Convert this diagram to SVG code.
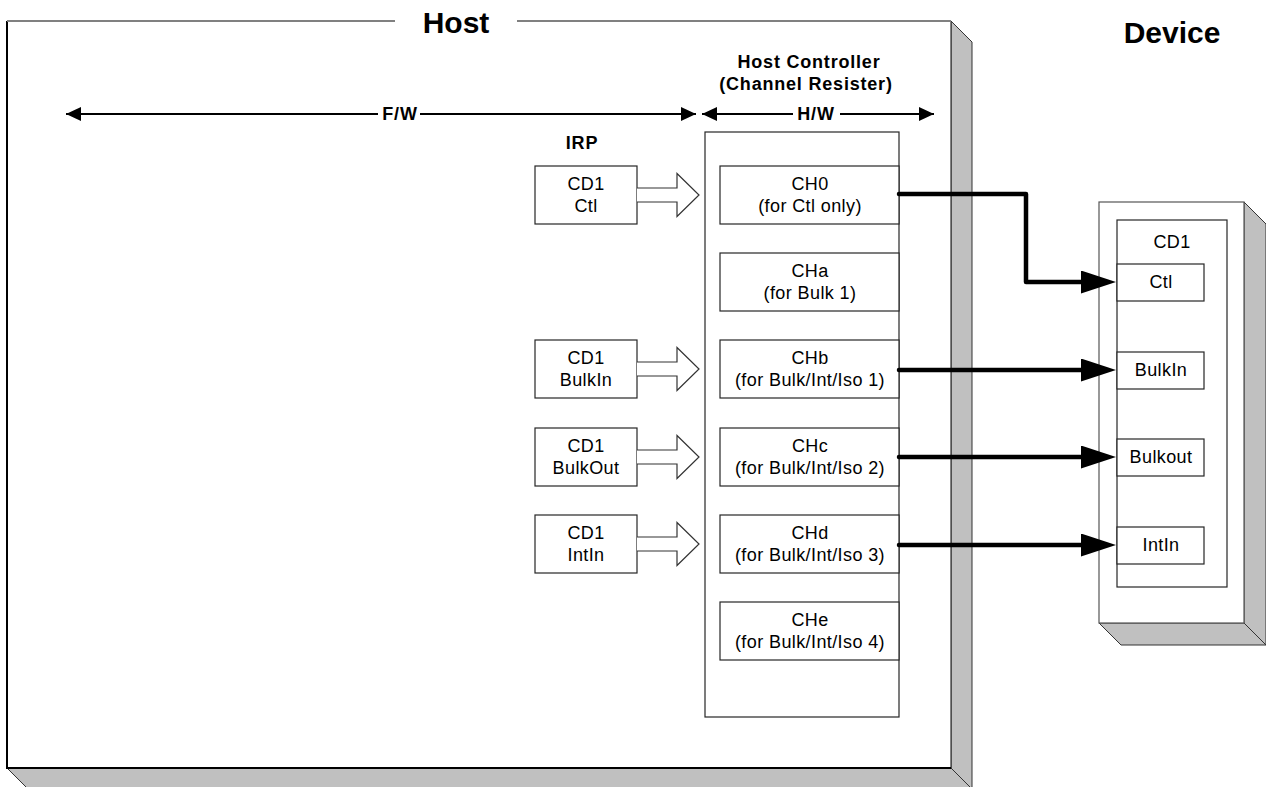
<svg xmlns="http://www.w3.org/2000/svg" width="1266" height="787" viewBox="0 0 1266 787">
  <style>
    .t { font-family: "Liberation Sans", Arial, sans-serif; font-size: 18px; letter-spacing: 0.4px; text-anchor: middle; fill: #000; }
    .b { font-family: "Liberation Sans", Arial, sans-serif; font-size: 18px; font-weight: bold; letter-spacing: 0.8px; text-anchor: middle; fill: #000; }
    .title { font-family: "Liberation Sans", Arial, sans-serif; font-size: 30px; font-weight: bold; text-anchor: middle; fill: #000; }
    .box { fill: #fff; stroke: #262626; stroke-width: 1.2; }
    .side { fill: #c0c0c0; stroke: #333; stroke-width: 1; }
    .span { fill: none; stroke: #000; stroke-width: 2; }
    .link { fill: none; stroke: #000; stroke-width: 4.5; stroke-linejoin: round; stroke-linecap: round; }
    .block { fill: #fff; stroke: #333; stroke-width: 1.2; stroke-linejoin: miter; }
  </style>
  <defs>
    <marker id="thin" markerUnits="userSpaceOnUse" markerWidth="16" markerHeight="14" refX="15" refY="7" orient="auto-start-reverse">
      <path d="M0,0 L15,7 L0,14 z" fill="#000"/>
    </marker>
    <marker id="thick" markerUnits="userSpaceOnUse" markerWidth="36" markerHeight="24" refX="18" refY="11.5" orient="auto">
      <path d="M0,0 L35,11.5 L0,23 z" fill="#000"/>
    </marker>
  </defs>

  <!-- Host: 3D slab -->
  <g id="host">
    <polygon class="side" points="951,21 972,42 972,789 951,768"/>
    <polygon class="side" points="7,768 951,768 972,789 28,789"/>
    <rect x="7" y="21" width="944" height="747" fill="#fff"/>
    <path d="M951,21 V768" stroke="#333" stroke-width="1.2" fill="none"/>
    <path d="M7,21 V768 H951" stroke="#000" stroke-width="2" fill="none"/>
    <path d="M7,21 H395 M517,21 H951" stroke="#808080" stroke-width="2.2" fill="none"/>
    <text class="title" x="456" y="33">Host</text>
  </g>

  <!-- Device: 3D slab -->
  <g id="device">
    <polygon class="side" points="1244,202 1266,224 1266,645 1244,623"/>
    <polygon class="side" points="1099,623 1244,623 1266,645 1121,645"/>
    <rect x="1099" y="202" width="145" height="421" fill="#fff" stroke="#555" stroke-width="1.2"/>
    <text class="title" x="1172" y="43">Device</text>
  </g>

  <!-- F/W and H/W spans -->
  <g id="spans">
    <path class="span" d="M66,114 H378 M420,114 H696" marker-start="url(#thin)" marker-end="url(#thin)"/>
    <text class="b" x="400" y="120">F/W</text>
    <path class="span" d="M702,114 H793 M840,114 H934" marker-start="url(#thin)" marker-end="url(#thin)"/>
    <text class="b" x="816" y="120">H/W</text>
  </g>

  <!-- Host controller channel register block -->
  <g id="host-controller">
    <text class="b" x="809" y="68">Host Controller</text>
    <text class="b" x="806" y="90">(Channel Resister)</text>
    <rect class="box" x="705" y="132" width="194" height="585"/>
  </g>

  <g id="ch0"><rect class="box" x="720" y="166" width="179" height="58"/><text class="t" x="810" y="190">CH0</text><text class="t" x="810" y="212">(for Ctl only)</text></g>
  <g id="cha"><rect class="box" x="720" y="253" width="179" height="58"/><text class="t" x="810" y="277">CHa</text><text class="t" x="810" y="299">(for Bulk 1)</text></g>
  <g id="chb"><rect class="box" x="720" y="340" width="179" height="58"/><text class="t" x="810" y="364">CHb</text><text class="t" x="810" y="386">(for Bulk/Int/Iso 1)</text></g>
  <g id="chc"><rect class="box" x="720" y="428" width="179" height="58"/><text class="t" x="810" y="452">CHc</text><text class="t" x="810" y="474">(for Bulk/Int/Iso 2)</text></g>
  <g id="chd"><rect class="box" x="720" y="515" width="179" height="58"/><text class="t" x="810" y="539">CHd</text><text class="t" x="810" y="561">(for Bulk/Int/Iso 3)</text></g>
  <g id="che"><rect class="box" x="720" y="602" width="179" height="58"/><text class="t" x="810" y="626">CHe</text><text class="t" x="810" y="648">(for Bulk/Int/Iso 4)</text></g>

  <!-- IRP requests -->
  <g id="irp-label"><text class="b" x="582" y="149">IRP</text></g>
  <g id="irp-ctl"><rect class="box" x="535" y="166" width="102" height="58"/><text class="t" x="586" y="190">CD1</text><text class="t" x="586" y="212">Ctl</text></g>
  <g id="irp-bulkin"><rect class="box" x="535" y="340" width="102" height="58"/><text class="t" x="586" y="364">CD1</text><text class="t" x="586" y="386">BulkIn</text></g>
  <g id="irp-bulkout"><rect class="box" x="535" y="428" width="102" height="58"/><text class="t" x="586" y="452">CD1</text><text class="t" x="586" y="474">BulkOut</text></g>
  <g id="irp-intin"><rect class="box" x="535" y="515" width="102" height="58"/><text class="t" x="586" y="539">CD1</text><text class="t" x="586" y="561">IntIn</text></g>

  <!-- Device endpoints -->
  <g id="cd1"><rect class="box" x="1117" y="220" width="110" height="367"/><text class="t" x="1172" y="248">CD1</text></g>
  <g id="ep-ctl"><rect class="box" x="1117" y="264" width="87" height="37"/><text class="t" x="1161" y="288">Ctl</text></g>
  <g id="ep-bulkin"><rect class="box" x="1117" y="352" width="87" height="37"/><text class="t" x="1161" y="376">BulkIn</text></g>
  <g id="ep-bulkout"><rect class="box" x="1117" y="439" width="87" height="37"/><text class="t" x="1161" y="463">Bulkout</text></g>
  <g id="ep-intin"><rect class="box" x="1117" y="527" width="87" height="37"/><text class="t" x="1161" y="551">IntIn</text></g>

  <!-- Connectors -->
  <g id="connectors">
    <path class="block" d="M637,188 H677 V173.5 L699,195 L677,216.5 V202 H637"/>
    <path class="block" d="M637,362 H677 V347.5 L699,369 L677,390.5 V376 H637"/>
    <path class="block" d="M637,450 H677 V435.5 L699,457 L677,478.5 V464 H637"/>
    <path class="block" d="M637,537 H677 V522.5 L699,544 L677,565.5 V551 H637"/>

    <path class="link" d="M899,194 H1026 V282 H1099" marker-end="url(#thick)"/>
    <path class="link" d="M899,370 H1099" marker-end="url(#thick)"/>
    <path class="link" d="M899,457 H1099" marker-end="url(#thick)"/>
    <path class="link" d="M899,545 H1099" marker-end="url(#thick)"/>
  </g>
</svg>
